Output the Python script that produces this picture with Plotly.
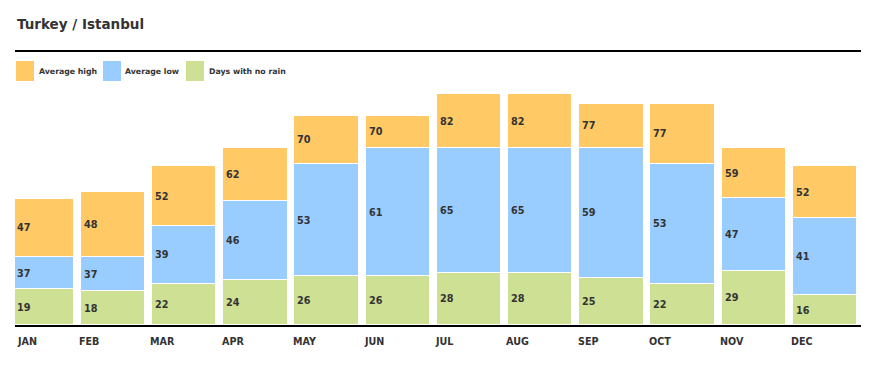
import plotly.graph_objects as go

# page is rendered with the browser's default 8px body margin
OFF = 8
PW, PH = 878, 370          # page size
W, H = PW - 2 * OFF, PH - 2 * OFF  # figure size

months = ["JAN", "FEB", "MAR", "APR", "MAY", "JUN", "JUL", "AUG", "SEP", "OCT", "NOV", "DEC"]
avg_high = [47, 48, 52, 62, 70, 70, 82, 82, 77, 77, 59, 52]
avg_low = [37, 37, 39, 46, 53, 61, 65, 65, 59, 53, 47, 41]
dry_days = [19, 18, 22, 24, 26, 26, 28, 28, 25, 22, 29, 16]
# drawn segment sizes (chart units)
low_seg = [17.5, 18.3, 31.0, 42.4, 60.2, 68.8, 66.8, 66.8, 69.8, 64.2, 39.0, 41.0]
high_seg = [31.1, 34.6, 31.8, 28.0, 25.5, 16.9, 28.5, 28.5, 23.6, 32.2, 26.4, 27.8]

series_names = ["Average high", "Average low", "Days with no rain"]
c_high, c_low, c_dry = "#FFC965", "#99CCFF", "#CDE093"
TXT = "#333333"
FONT = "DejaVu Sans"

# plot area in page pixels
L, R, T, B = 15, 861, 50, 325
px_per_cat = 71.2
cat0_center = 41.8
x0 = (L - cat0_center) / px_per_cat
x1 = (R - cat0_center) / px_per_cat
px_per_unit = 1.87
ymax = (B - T) / px_per_unit
bw = 64.5 / px_per_cat


def px(x):
    return (x - OFF) / W


def py(y):
    return (H - (y - OFF)) / H


xs = list(range(len(months)))
fig = go.Figure()
line = dict(color="white", width=1)
fig.add_trace(go.Bar(x=xs, y=dry_days, marker=dict(color=c_dry, line=line), width=bw, name=series_names[2]))
fig.add_trace(go.Bar(x=xs, y=low_seg, marker=dict(color=c_low, line=line), width=bw, name=series_names[1]))
fig.add_trace(go.Bar(x=xs, y=high_seg, marker=dict(color=c_high, line=line), width=bw, name=series_names[0]))

annotations = []
for i in xs:
    lx = max(i - bw / 2 + 2 / px_per_cat, x0 + 0.5 / px_per_cat)
    segs = [
        (0, dry_days[i], dry_days[i]),
        (dry_days[i], low_seg[i], avg_low[i]),
        (dry_days[i] + low_seg[i], high_seg[i], avg_high[i]),
    ]
    for base, h, lab in segs:
        annotations.append(dict(
            x=lx, y=base + h / 2, xref="x", yref="y", text=f"<b>{lab}</b>",
            xanchor="left", yanchor="middle", showarrow=False, borderpad=0,
            font=dict(family=FONT, size=9.7, color=TXT)))
    mx = max(i - bw / 2 - 2.5 / px_per_cat, x0 + 0.5 / px_per_cat)
    annotations.append(dict(
        x=mx, y=py(341.5), xref="x", yref="paper", text=f"<b>{months[i]}</b>",
        xanchor="left", yanchor="middle", showarrow=False, borderpad=0,
        font=dict(family=FONT, size=9.6, color=TXT)))

# title
annotations.append(dict(
    x=px(15.5), y=py(24.5), xref="paper", yref="paper", text="<b>Turkey / Istanbul</b>",
    xanchor="left", yanchor="middle", showarrow=False, borderpad=0,
    font=dict(family=FONT, size=13.5, color=TXT)))

shapes = [dict(type="line", xref="paper", yref="paper", x0=px(L), x1=px(R), y0=py(51), y1=py(51),
               line=dict(color="black", width=2))]

# legend
leg = [(16, 37.5, c_high, series_names[0]), (103, 124, c_low, series_names[1]), (186, 208, c_dry, series_names[2])]
for sx, tx, col, name in leg:
    shapes.append(dict(type="rect", xref="paper", yref="paper", x0=px(sx), x1=px(sx + 18),
                       y0=py(81), y1=py(61), fillcolor=col, line=dict(width=0)))
    annotations.append(dict(
        x=px(tx), y=py(71.5), xref="paper", yref="paper", text=f"<b>{name}</b>",
        xanchor="left", yanchor="middle", showarrow=False, borderpad=0,
        font=dict(family=FONT, size=7.8, color=TXT)))

fig.update_layout(
    width=W, height=H, barmode="stack", bargap=0,
    margin=dict(l=0, r=0, t=0, b=0),
    paper_bgcolor="white", plot_bgcolor="white",
    showlegend=False,
    xaxis=dict(domain=[px(L), px(R)], range=[x0, x1], showticklabels=False, ticks="",
               showgrid=False, zeroline=False, showline=True, linecolor="black", linewidth=2),
    yaxis=dict(domain=[py(B), py(T)], range=[0, ymax], showticklabels=False,
               showgrid=False, zeroline=False, showline=False),
    annotations=annotations, shapes=shapes,
    font=dict(family=FONT, color=TXT),
)

fig.write_html("out.html")
